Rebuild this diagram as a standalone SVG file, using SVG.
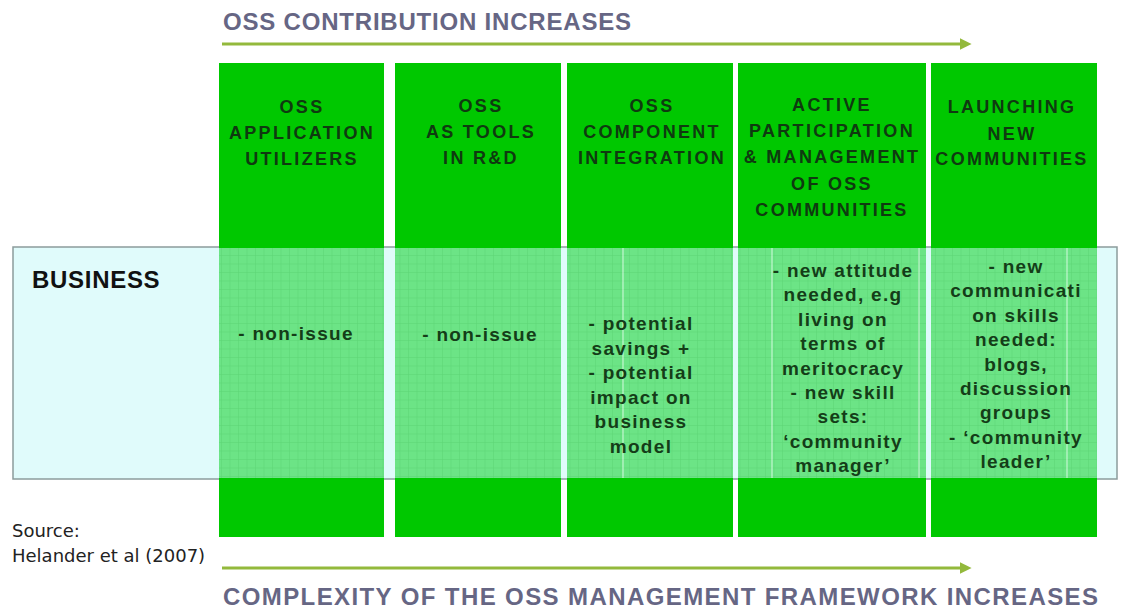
<svg xmlns="http://www.w3.org/2000/svg" width="1121" height="614" viewBox="0 0 1121 614">
<defs>
<style>
.title{font-family:"Liberation Sans",Arial,sans-serif;font-weight:bold;font-size:24px;fill:#666684;}
.col{fill:#00c800;}
.mid{fill:url(#grid);}
.hdr{font-family:"Liberation Sans",Arial,sans-serif;font-weight:bold;font-size:18px;letter-spacing:2.3px;fill:#0f3a10;text-anchor:middle;}
.body{font-family:"Liberation Sans",Arial,sans-serif;font-weight:bold;font-size:19px;letter-spacing:1.3px;fill:#143d18;text-anchor:middle;}
.arrow{stroke:#93b93c;stroke-width:3;fill:none;}
.faint{stroke:#e8fff0;stroke-width:1.2;opacity:0.7;}
.src{font-family:"DejaVu Sans",Verdana,sans-serif;font-size:18px;fill:#222;}
</style>
<pattern id="grid" width="8.5" height="8.5" patternUnits="userSpaceOnUse">
<rect width="8.5" height="8.5" fill="#6ce486"/>
<path d="M0 0.3H8.5M0.3 0V8.5" stroke="#5ad474" stroke-width="0.6"/>
</pattern>
<marker id="ah" viewBox="0 0 10 10" refX="2" refY="5" markerWidth="4" markerHeight="4" orient="auto" markerUnits="strokeWidth">
<path d="M0 0L10 5L0 10z" fill="#93b93c"/>
</marker>
</defs>
<rect width="1121" height="614" fill="#ffffff"/>

<g id="title-top">
<text class="title" x="223" y="30" letter-spacing="0.8">OSS CONTRIBUTION INCREASES</text>
</g>

<g id="band">
<rect x="13" y="247" width="1104" height="232" fill="#e0fbfb" stroke="#8c9c9c" stroke-width="1.5"/>
<text x="32" y="288" font-family="'Liberation Sans',Arial,sans-serif" font-weight="bold" font-size="24" letter-spacing="0.7" fill="#111">BUSINESS</text>
</g>

<g id="col1">
<rect class="col" x="219" y="63" width="165" height="474"/>
<rect class="mid" x="219" y="248" width="165" height="230"/>
<text class="hdr"><tspan x="302" y="113">OSS</tspan><tspan x="302" y="139">APPLICATION</tspan><tspan x="302" y="165">UTILIZERS</tspan></text>
<text class="body" x="296" y="340">- non-issue</text>
</g>

<g id="col2">
<rect class="col" x="395" y="63" width="166" height="474"/>
<rect class="mid" x="395" y="248" width="166" height="230"/>
<text class="hdr"><tspan x="481" y="112">OSS</tspan><tspan x="481" y="138">AS TOOLS</tspan><tspan x="481" y="164">IN R&amp;D</tspan></text>
<text class="body" x="480" y="341">- non-issue</text>
</g>

<g id="col3">
<rect class="col" x="567" y="63" width="166" height="474"/>
<rect class="mid" x="567" y="248" width="166" height="230"/>
<line class="faint" x1="623" y1="248" x2="623" y2="478"/>
<text class="hdr"><tspan x="652" y="112">OSS</tspan><tspan x="652" y="138">COMPONENT</tspan><tspan x="652" y="164">INTEGRATION</tspan></text>
<text class="body"><tspan x="641" y="330">- potential</tspan><tspan x="641" y="354.6">savings +</tspan><tspan x="641" y="379.2">- potential</tspan><tspan x="641" y="403.8">impact on</tspan><tspan x="641" y="428.4">business</tspan><tspan x="641" y="453">model</tspan></text>
</g>

<g id="col4">
<rect class="col" x="738" y="63" width="188" height="474"/>
<rect class="mid" x="738" y="248" width="188" height="230"/>
<line class="faint" x1="772" y1="248" x2="772" y2="478"/>
<line class="faint" x1="919" y1="248" x2="919" y2="478"/>
<text class="hdr"><tspan x="832" y="111">ACTIVE</tspan><tspan x="832" y="137">PARTICIPATION</tspan><tspan x="832" y="163">&amp; MANAGEMENT</tspan><tspan x="832" y="190">OF OSS</tspan><tspan x="832" y="216">COMMUNITIES</tspan></text>
<text class="body"><tspan x="843" y="277">- new attitude</tspan><tspan x="843" y="301.4">needed, e.g</tspan><tspan x="843" y="325.8">living on</tspan><tspan x="843" y="350.2">terms of</tspan><tspan x="843" y="374.6">meritocracy</tspan><tspan x="843" y="399">- new skill</tspan><tspan x="843" y="423.4">sets:</tspan><tspan x="843" y="447.8">‘community</tspan><tspan x="843" y="472.2">manager’</tspan></text>
</g>

<g id="col5">
<rect class="col" x="931" y="63" width="166" height="474"/>
<rect class="mid" x="931" y="248" width="166" height="230"/>
<line class="faint" x1="1067" y1="248" x2="1067" y2="478"/>
<text class="hdr"><tspan x="1012" y="113">LAUNCHING</tspan><tspan x="1012" y="140">NEW</tspan><tspan x="1012" y="165">COMMUNITIES</tspan></text>
<text class="body"><tspan x="1016" y="273">- new</tspan><tspan x="1016" y="297.4">communicati</tspan><tspan x="1016" y="321.8">on skills</tspan><tspan x="1016" y="346.2">needed:</tspan><tspan x="1016" y="370.6">blogs,</tspan><tspan x="1016" y="395">discussion</tspan><tspan x="1016" y="419.4">groups</tspan><tspan x="1016" y="443.8">- ‘community</tspan><tspan x="1016" y="468.2">leader’</tspan></text>
</g>

<g id="connectors">
<line class="arrow" x1="222" y1="44" x2="962" y2="44" marker-end="url(#ah)"/>
<line class="arrow" x1="222" y1="568" x2="962" y2="568" marker-end="url(#ah)"/>
</g>

<g id="source">
<text class="src"><tspan x="12" y="537">Source:</tspan><tspan x="12" y="562">Helander et al (2007)</tspan></text>
</g>

<g id="title-bottom">
<text class="title" x="223" y="605" letter-spacing="1.4">COMPLEXITY OF THE OSS MANAGEMENT FRAMEWORK INCREASES</text>
</g>
</svg>
